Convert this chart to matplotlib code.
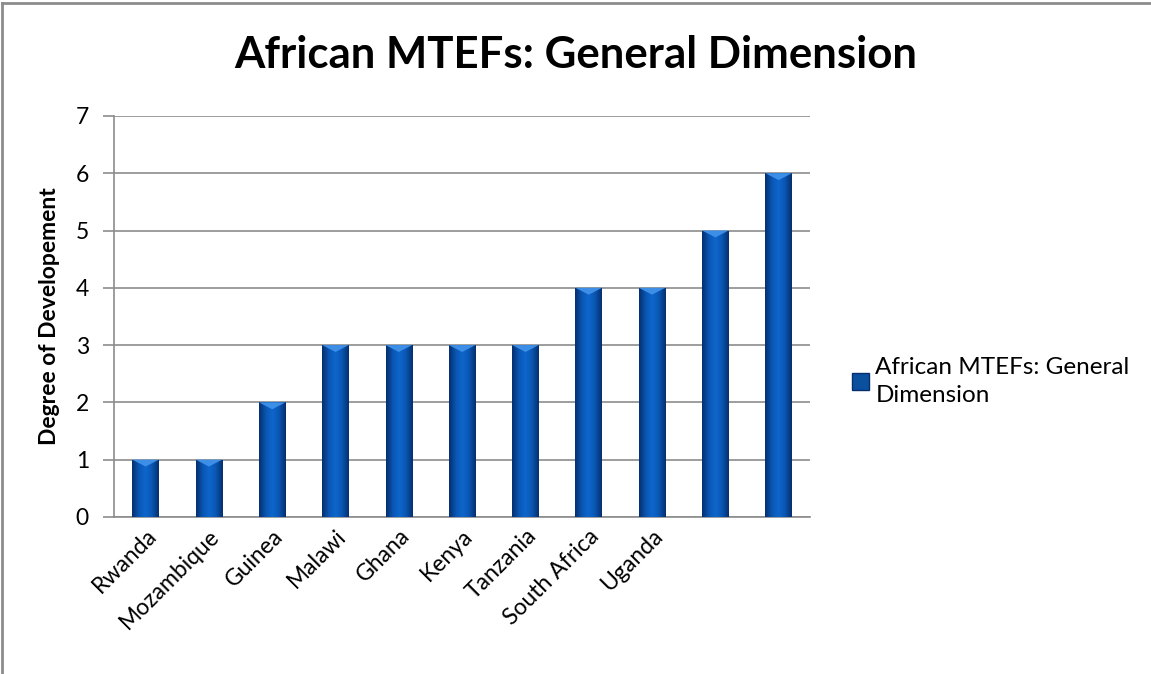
import numpy as np
import matplotlib
matplotlib.use("Agg")
import matplotlib.pyplot as plt
from matplotlib.patches import Patch, Polygon
from matplotlib.lines import Line2D
from matplotlib.colors import LinearSegmentedColormap

# ---- data
countries = ["Rwanda", "Mozambique", "Guinea", "Malawi", "Ghana", "Kenya",
             "Tanzania", "South Africa", "Uganda", "", ""]
scores = [1, 1, 2, 3, 3, 3, 3, 4, 4, 5, 6]
series_name = "African MTEFs: General Dimension"

plt.rcParams['font.family'] = ['Lato', 'DejaVu Sans']

fig = plt.figure(figsize=(11.51, 6.74), dpi=100)
ax = fig.add_axes([0.099, 0.233, 0.605, 0.595])

x = np.arange(len(scores))
bw = 0.42
bars = ax.bar(x, scores, width=bw, color='#0b57b0', edgecolor='none', zorder=2)

# horizontal shading across each bar (dark edges, lighter middle)
cmap = LinearSegmentedColormap.from_list('barshade', ['#062f6e', '#0a56b2', '#0e66cc', '#0a56b2', '#062f6e'])
grad = np.linspace(0, 1, 64).reshape(1, -1)
for b in bars:
    x0, w, h = b.get_x(), b.get_width(), b.get_height()
    im = ax.imshow(grad, extent=[x0, x0 + w, 0, h], aspect='auto', cmap=cmap, zorder=3)
    im.set_clip_path(b)
    # small bevel at the top
    tri = Polygon([[x0, h], [x0 + w, h], [x0 + w * 0.5, h - 0.12]], closed=True,
                  facecolor='#3d8ee6', edgecolor='none', zorder=4)
    ax.add_patch(tri)

ax.set_xlim(-0.5, len(scores) - 0.5)
ax.set_ylim(0, 7)
ax.set_yticks(range(0, 8))
ax.yaxis.grid(True, color='#8c8c8c', linewidth=1.2, zorder=0)
ax.set_axisbelow(True)

ax.set_xticks(x)
ax.set_xticklabels(countries, rotation=45, ha='right', rotation_mode='anchor', fontsize=16.5)
ax.tick_params(axis='x', length=0, pad=6)
ax.tick_params(axis='y', length=8, width=1.2, color='#8c8c8c', labelsize=16.5, pad=10)

for s in ['top', 'right']:
    ax.spines[s].set_visible(False)
for s in ['left', 'bottom']:
    ax.spines[s].set_color('#8c8c8c')
    ax.spines[s].set_linewidth(1.2)

ax.set_ylabel("Degree of Developement", fontsize=16.5, fontweight='bold', labelpad=11)

fig.text(0.5, 0.918, series_name, ha='center', va='center', fontsize=31.5, fontweight='bold')

handle = Patch(facecolor='#0b4f9f', edgecolor='#062f6e')
ax.legend([handle], ["African MTEFs: General\nDimension"], loc='center left',
          bbox_to_anchor=(1.029, 0.338), frameon=False, fontsize=17.5,
          handlelength=0.7, handleheight=0.7, handletextpad=0.25)
for t in ax.get_legend().get_texts():
    t.set_linespacing(1.45)

# chart-area border (visible on left and top only in the reference)
fig.add_artist(Line2D([0.002, 0.002], [0.0, 0.996], color='#8c8c8c', lw=2, transform=fig.transFigure))
fig.add_artist(Line2D([0.002, 1.0], [0.996, 0.996], color='#8c8c8c', lw=2, transform=fig.transFigure))

fig.savefig("out.png", dpi=100)
